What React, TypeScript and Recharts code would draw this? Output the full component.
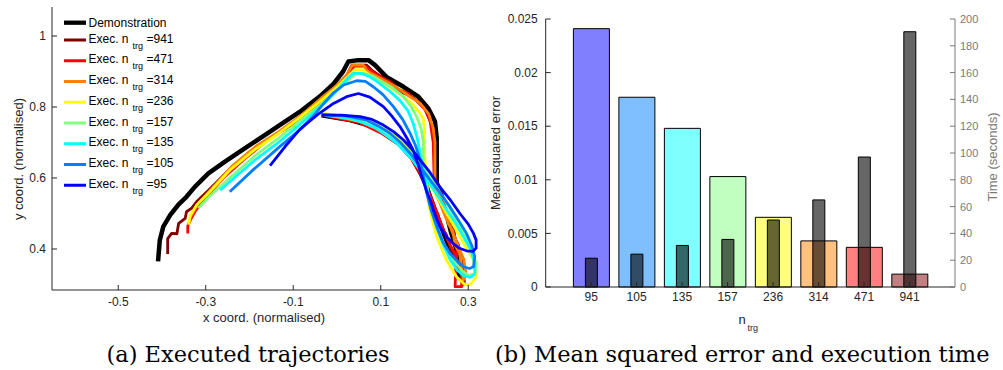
import { Bar, Cell, ComposedChart, Line, LineChart, XAxis, YAxis } from 'recharts'

type Pt = [number, number]

// (a) trajectories as [x, y]
const DEMO: Pt[] = [
  [-0.409, 0.365], [-0.405, 0.425], [-0.397, 0.463], [-0.381, 0.496], [-0.363, 0.524],
  [-0.344, 0.547], [-0.325, 0.575], [-0.294, 0.613], [-0.256, 0.646], [-0.21, 0.684],
  [-0.165, 0.721], [-0.119, 0.759], [-0.081, 0.79], [-0.039, 0.83], [-0.008, 0.865],
  [0.014, 0.9], [0.026, 0.928], [0.049, 0.932], [0.072, 0.932], [0.087, 0.918],
  [0.113, 0.885], [0.152, 0.857], [0.186, 0.829], [0.209, 0.796], [0.224, 0.759],
  [0.228, 0.712], [0.228, 0.585], [0.236, 0.56], [0.242, 0.52], [0.252, 0.49],
  [0.26, 0.45], [0.27, 0.41], [0.28, 0.37], [0.286, 0.34], [0.289, 0.303],
  [0.281, 0.322], [0.27, 0.369], [0.25, 0.425], [0.232, 0.482], [0.213, 0.547],
  [0.197, 0.604], [0.175, 0.651], [0.159, 0.683], [0.129, 0.716], [0.083, 0.745],
  [0.03, 0.763], [-0.035, 0.777],
]
const EXEC_941: Pt[] = [
  [-0.387, 0.386], [-0.387, 0.429], [-0.378, 0.444], [-0.366, 0.443], [-0.362, 0.472],
  [-0.347, 0.486], [-0.344, 0.505], [-0.332, 0.515], [-0.321, 0.533], [-0.29, 0.57],
  [-0.241, 0.63], [-0.187, 0.685], [-0.134, 0.728], [-0.081, 0.775], [-0.039, 0.82],
  [-0.001, 0.86], [0.022, 0.888], [0.034, 0.918], [0.068, 0.918], [0.079, 0.904],
  [0.106, 0.881], [0.125, 0.87], [0.144, 0.843], [0.16, 0.835], [0.175, 0.824],
  [0.19, 0.81], [0.205, 0.787], [0.216, 0.749], [0.222, 0.7], [0.224, 0.6],
  [0.232, 0.58], [0.24, 0.56], [0.243, 0.53], [0.25, 0.51], [0.258, 0.48],
  [0.266, 0.46], [0.27, 0.43], [0.278, 0.41], [0.282, 0.38], [0.288, 0.35],
  [0.29, 0.31], [0.282, 0.33], [0.27, 0.38], [0.26, 0.4], [0.25, 0.44],
  [0.24, 0.46], [0.23, 0.5], [0.22, 0.52], [0.205, 0.57], [0.19, 0.61],
  [0.17, 0.655], [0.14, 0.695], [0.1, 0.73], [0.05, 0.757], [-0.035, 0.777],
]
const EXEC_471: Pt[] = [
  [-0.341, 0.444], [-0.341, 0.465], [-0.335, 0.482], [-0.325, 0.505], [-0.3, 0.545],
  [-0.26, 0.6], [-0.21, 0.655], [-0.16, 0.705], [-0.11, 0.745], [-0.06, 0.79],
  [-0.02, 0.83], [0.01, 0.866], [0.03, 0.89], [0.038, 0.915], [0.065, 0.915],
  [0.08, 0.9], [0.1, 0.885], [0.12, 0.87], [0.14, 0.85], [0.16, 0.84],
  [0.18, 0.82], [0.2, 0.795], [0.213, 0.76], [0.22, 0.7], [0.222, 0.6],
  [0.23, 0.58], [0.235, 0.55], [0.245, 0.53], [0.248, 0.5], [0.258, 0.48],
  [0.262, 0.45], [0.27, 0.43], [0.275, 0.39], [0.272, 0.37], [0.27, 0.294],
  [0.285, 0.294], [0.285, 0.33], [0.278, 0.36], [0.268, 0.39], [0.255, 0.42],
  [0.245, 0.45], [0.232, 0.49], [0.22, 0.53], [0.205, 0.575], [0.19, 0.615],
  [0.17, 0.655], [0.14, 0.695], [0.1, 0.727], [0.05, 0.757], [-0.035, 0.778],
]
const EXEC_314: Pt[] = [
  [-0.335, 0.49], [-0.32, 0.525], [-0.29, 0.565], [-0.241, 0.632], [-0.187, 0.688],
  [-0.134, 0.73], [-0.081, 0.777], [-0.039, 0.822], [-0.001, 0.86], [0.022, 0.89],
  [0.035, 0.918], [0.06, 0.918], [0.07, 0.9], [0.1, 0.88], [0.13, 0.86],
  [0.16, 0.835], [0.19, 0.81], [0.21, 0.78], [0.22, 0.74], [0.224, 0.7],
  [0.224, 0.575], [0.232, 0.56], [0.238, 0.53], [0.248, 0.51], [0.255, 0.47],
  [0.265, 0.45], [0.27, 0.41], [0.28, 0.39], [0.285, 0.35], [0.289, 0.313],
  [0.295, 0.33], [0.29, 0.37], [0.28, 0.4], [0.27, 0.43], [0.26, 0.46],
  [0.248, 0.49], [0.235, 0.53], [0.22, 0.57], [0.2, 0.62], [0.18, 0.655],
  [0.15, 0.69], [0.11, 0.725], [0.06, 0.758], [-0.035, 0.779],
]
const EXEC_236: Pt[] = [
  [-0.339, 0.468], [-0.335, 0.495], [-0.32, 0.525], [-0.29, 0.562], [-0.245, 0.622],
  [-0.19, 0.678], [-0.134, 0.725], [-0.085, 0.77], [-0.039, 0.815], [-0.001, 0.855],
  [0.025, 0.885], [0.04, 0.905], [0.058, 0.905], [0.08, 0.885], [0.113, 0.862],
  [0.14, 0.84], [0.167, 0.815], [0.185, 0.79], [0.197, 0.768], [0.2, 0.74],
  [0.2, 0.67], [0.205, 0.6], [0.209, 0.529], [0.218, 0.48], [0.228, 0.435],
  [0.25, 0.369], [0.273, 0.322], [0.293, 0.299], [0.305, 0.3], [0.319, 0.322],
  [0.312, 0.369], [0.295, 0.405], [0.281, 0.435], [0.251, 0.5], [0.22, 0.566],
  [0.19, 0.632], [0.159, 0.688], [0.121, 0.73], [0.068, 0.763], [-0.031, 0.782],
]
const EXEC_157: Pt[] = [
  [-0.317, 0.515], [-0.29, 0.55], [-0.245, 0.6], [-0.19, 0.66], [-0.134, 0.712],
  [-0.085, 0.76], [-0.039, 0.805], [-0.001, 0.845], [0.025, 0.875], [0.042, 0.893],
  [0.06, 0.895], [0.08, 0.888], [0.098, 0.875], [0.125, 0.855], [0.152, 0.829],
  [0.17, 0.8], [0.182, 0.773], [0.192, 0.74], [0.197, 0.707], [0.197, 0.632],
  [0.205, 0.57], [0.215, 0.52], [0.228, 0.46], [0.245, 0.41], [0.265, 0.37],
  [0.285, 0.34], [0.3, 0.325], [0.315, 0.33], [0.318, 0.36], [0.305, 0.41],
  [0.285, 0.455], [0.26, 0.51], [0.23, 0.57], [0.2, 0.625], [0.17, 0.67],
  [0.13, 0.715], [0.08, 0.75], [0.02, 0.77], [-0.033, 0.78],
]
const EXEC_135: Pt[] = [
  [-0.267, 0.566], [-0.24, 0.595], [-0.19, 0.648], [-0.134, 0.7], [-0.085, 0.75],
  [-0.039, 0.8], [-0.005, 0.84], [0.02, 0.875], [0.037, 0.895], [0.055, 0.895],
  [0.075, 0.885], [0.091, 0.872], [0.12, 0.845], [0.144, 0.818], [0.162, 0.79],
  [0.174, 0.754], [0.184, 0.71], [0.19, 0.67], [0.198, 0.62], [0.205, 0.575],
  [0.215, 0.52], [0.228, 0.463], [0.242, 0.415], [0.258, 0.372], [0.275, 0.34],
  [0.289, 0.325], [0.305, 0.32], [0.315, 0.33], [0.315, 0.36], [0.305, 0.4],
  [0.289, 0.435], [0.27, 0.475], [0.251, 0.51], [0.225, 0.56], [0.2, 0.605],
  [0.17, 0.655], [0.135, 0.7], [0.09, 0.74], [0.04, 0.765], [-0.035, 0.779],
]
const EXEC_105: Pt[] = [
  [-0.245, 0.561], [-0.19, 0.625], [-0.134, 0.685], [-0.081, 0.74], [-0.054, 0.775],
  [-0.03, 0.81], [-0.008, 0.84], [0.015, 0.862], [0.045, 0.874], [0.065, 0.872],
  [0.083, 0.857], [0.105, 0.835], [0.129, 0.801], [0.15, 0.765], [0.167, 0.726],
  [0.18, 0.69], [0.19, 0.651], [0.198, 0.6], [0.205, 0.557], [0.215, 0.51],
  [0.228, 0.463], [0.242, 0.42], [0.258, 0.388], [0.275, 0.365], [0.289, 0.35],
  [0.303, 0.345], [0.312, 0.35], [0.315, 0.378], [0.308, 0.41], [0.296, 0.444],
  [0.278, 0.48], [0.258, 0.519], [0.236, 0.558], [0.213, 0.594], [0.19, 0.632],
  [0.167, 0.67], [0.145, 0.7], [0.121, 0.726], [0.095, 0.746], [0.068, 0.763],
  [0.02, 0.775], [-0.035, 0.779],
]
const EXEC_95: Pt[] = [
  [-0.153, 0.635], [-0.119, 0.688], [-0.085, 0.737], [-0.046, 0.777], [-0.008, 0.81],
  [0.022, 0.829], [0.049, 0.838], [0.075, 0.828], [0.106, 0.801], [0.125, 0.775],
  [0.144, 0.745], [0.16, 0.712], [0.174, 0.679], [0.185, 0.64], [0.194, 0.604],
  [0.203, 0.57], [0.213, 0.538], [0.223, 0.5], [0.235, 0.463], [0.25, 0.435],
  [0.265, 0.416], [0.28, 0.402], [0.296, 0.395], [0.31, 0.393], [0.318, 0.402],
  [0.318, 0.425], [0.312, 0.444], [0.3, 0.47], [0.281, 0.5], [0.258, 0.54],
  [0.235, 0.575], [0.213, 0.615], [0.19, 0.651], [0.172, 0.68], [0.152, 0.707],
  [0.13, 0.73], [0.106, 0.749], [0.08, 0.765], [0.053, 0.773], [0.01, 0.777],
  [-0.035, 0.777],
]

const X_TICKS = [-0.5, -0.3, -0.1, 0.1, 0.3]
const Y_TICKS = [0.4, 0.6, 0.8, 1]

// (b) bars
const N_TRG = ['95', '105', '135', '157', '236', '314', '471', '941']
const MSE = [0.0241, 0.0177, 0.0148, 0.0103, 0.0065, 0.0043, 0.0037, 0.0012]
const TIME_S = [21.5, 24.5, 31, 35.5, 50, 65, 97, 190.5]
const MSE_TICKS = [0, 0.005, 0.01, 0.015, 0.02, 0.025]
const TIME_TICKS = [0, 20, 40, 60, 80, 100, 120, 140, 160, 180, 200]

const SERIES = [
  { label: 'Demonstration', pts: DEMO, color: '#000000', width: 4.5 },
  { label: '941', pts: EXEC_941, color: '#800000', width: 2.8 },
  { label: '471', pts: EXEC_471, color: '#ff0000', width: 2.8 },
  { label: '314', pts: EXEC_314, color: '#ff8000', width: 2.8 },
  { label: '236', pts: EXEC_236, color: '#ffff00', width: 2.8 },
  { label: '157', pts: EXEC_157, color: '#80ff80', width: 2.8 },
  { label: '135', pts: EXEC_135, color: '#00ffff', width: 2.8 },
  { label: '105', pts: EXEC_105, color: '#0080ff', width: 2.8 },
  { label: '95', pts: EXEC_95, color: '#0000ff', width: 2.8 },
]

const MSE_FILLS = ['#8080ff', '#80bfff', '#80ffff', '#c0ffc0', '#ffff80', '#ffc080', '#ff8080', '#c08080']

const INK = '#262626'
const GREY = '#7a7a7a'
const SANS = '"Liberation Sans", Arial, Helvetica, sans-serif'
const SERIF = '"DejaVu Serif", serif'

function TrajectoryPlot() {
  return (
    <LineChart width={500} height={330} margin={{ top: 7, right: 20, bottom: 10, left: 0 }}>
      <XAxis
        dataKey="x"
        type="number"
        domain={[-0.6514, 0.3269]}
        allowDataOverflow
        ticks={X_TICKS}
        interval={0}
        height={30}
        tickSize={-5}
        tickMargin={12}
        axisLine={{ stroke: INK }}
        tickLine={{ stroke: INK }}
        tick={{ fontSize: 12, fill: INK, fontFamily: SANS }}
      />
      <YAxis
        type="number"
        domain={[0.2845, 1.0817]}
        allowDataOverflow
        ticks={Y_TICKS}
        interval={0}
        width={52}
        tickSize={-5}
        tickMargin={11}
        axisLine={{ stroke: INK }}
        tickLine={{ stroke: INK }}
        tick={{ fontSize: 12, fill: INK, fontFamily: SANS }}
      />
      {SERIES.map((s) => (
        <Line
          key={s.label}
          data={s.pts.map(([x, y]) => ({ x, y }))}
          dataKey="y"
          type="linear"
          stroke={s.color}
          strokeWidth={s.width}
          strokeLinejoin="round"
          dot={false}
          activeDot={false}
          isAnimationActive={false}
        />
      ))}
    </LineChart>
  )
}

function ErrorTimePlot() {
  const rows = N_TRG.map((n, i) => ({ n, mse: MSE[i], time: TIME_S[i] }))
  return (
    <ComposedChart width={503} height={330} data={rows} margin={{ top: 19, right: 0, bottom: 13, left: 0 }}>
      <XAxis
        xAxisId="mse"
        dataKey="n"
        type="category"
        padding={{ left: 22.7, right: 22.7 }}
        interval={0}
        height={30}
        tickSize={-5}
        tickMargin={10}
        axisLine={{ stroke: INK }}
        tickLine={{ stroke: INK }}
        tick={{ fontSize: 12, fill: INK, fontFamily: SANS }}
      />
      <XAxis xAxisId="time" dataKey="n" type="category" padding={{ left: 22.7, right: 22.7 }} hide />
      <YAxis
        yAxisId="mse"
        orientation="left"
        domain={[0, 0.025]}
        ticks={MSE_TICKS}
        interval={0}
        width={45.7}
        tickSize={-5}
        tickMargin={13}
        axisLine={{ stroke: INK }}
        tickLine={{ stroke: INK }}
        tick={{ fontSize: 12, fill: INK, fontFamily: SANS }}
      />
      <YAxis
        yAxisId="time"
        orientation="right"
        domain={[0, 200]}
        ticks={TIME_TICKS}
        interval={0}
        width={48}
        tickSize={-5}
        tickMargin={10}
        axisLine={{ stroke: GREY }}
        tickLine={{ stroke: GREY }}
        tick={{ fontSize: 11, fill: GREY, fontFamily: SANS }}
      />
      <Bar xAxisId="mse" yAxisId="mse" dataKey="mse" barSize={36} stroke="#000" strokeWidth={1} isAnimationActive={false}>
        {rows.map((r, i) => (
          <Cell key={r.n} fill={MSE_FILLS[i]} />
        ))}
      </Bar>
      <Bar
        xAxisId="time"
        yAxisId="time"
        dataKey="time"
        barSize={12}
        fill="#000"
        fillOpacity={0.6}
        stroke="#000"
        strokeWidth={1}
        isAnimationActive={false}
      />
    </ComposedChart>
  )
}

function Annotations() {
  const rowY = (i: number) => 40 + 20.75 * i
  return (
    <svg
      width={1003}
      height={370}
      style={{ position: 'absolute', left: 0, top: 0, pointerEvents: 'none' }}
      fontFamily={SANS}
    >
      {/* legend */}
      <line x1={64} x2={86} y1={22.7} y2={22.7} stroke="#000" strokeWidth={4.3} />
      <text x={88.5} y={27} fontSize={12} fill="#000">Demonstration</text>
      {SERIES.slice(1).map((s, i) => (
        <g key={s.label}>
          <line x1={64} x2={86} y1={rowY(i)} y2={rowY(i)} stroke={s.color} strokeWidth={3} />
          <text x={88.5} y={rowY(i) + 2.7} fontSize={12} fill="#000">Exec. n</text>
          <text x={132.5} y={rowY(i) + 8.5} fontSize={9} fill="#000">trg</text>
          <text x={146.5} y={rowY(i) + 2.7} fontSize={12} fill="#000">={s.label}</text>
        </g>
      ))}

      {/* axis titles */}
      <text x={18} y={159} transform="rotate(-90 18 159)" textAnchor="middle" dominantBaseline="central" fontSize={13} fill={INK}>
        y coord. (normalised)
      </text>
      <text x={264} y={322} textAnchor="middle" fontSize={13} fill={INK}>
        x coord. (normalised)
      </text>
      <text x={495} y={153} transform="rotate(-90 495 153)" textAnchor="middle" dominantBaseline="central" fontSize={13} fill={INK}>
        Mean squared error
      </text>
      <text x={992} y={157} transform="rotate(-90 992 157)" textAnchor="middle" dominantBaseline="central" fontSize={13} fill={GREY}>
        Time (seconds)
      </text>
      <text x={738.5} y={324} fontSize={13} fill={INK}>n</text>
      <text x={747.5} y={331} fontSize={9} fill={INK}>trg</text>

      {/* captions */}
      <text x={106.5} y={362} fontSize={22.5} fontFamily={SERIF} fill="#000">
        (a) Executed trajectories
      </text>
      <text x={495} y={362} fontSize={22.5} fontFamily={SERIF} fill="#000">
        (b) Mean squared error and execution time
      </text>
    </svg>
  )
}

export default function App() {
  return (
    <div style={{ position: 'absolute', left: 0, top: 0, width: 1003, height: 370, background: '#fff', overflow: 'hidden' }}>
      <div style={{ position: 'absolute', left: 0, top: 0 }}>
        <TrajectoryPlot />
      </div>
      <div style={{ position: 'absolute', left: 500, top: 0 }}>
        <ErrorTimePlot />
      </div>
      <Annotations />
    </div>
  )
}
